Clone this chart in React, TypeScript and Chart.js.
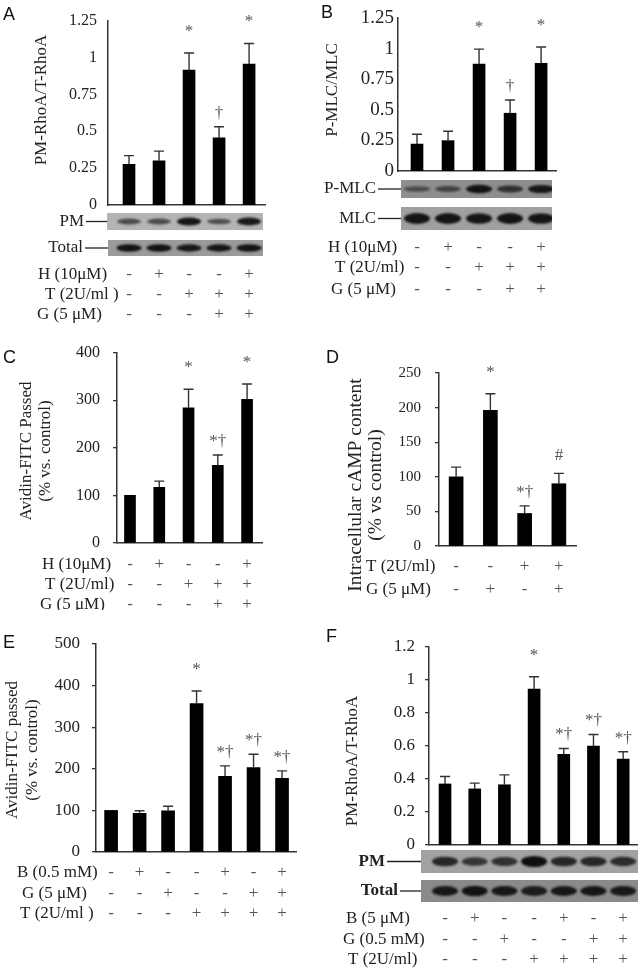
import React, { useEffect, useRef } from "react";
import { Chart, registerables } from "chart.js";

Chart.register(...registerables);

// ---------------- Data ----------------
// Panel A
const A_LANES = ["Ctrl", "H", "T", "T+G", "H+T+G"];
const A_VALUES = [0.275, 0.3, 0.915, 0.455, 0.955];
const A_ERRORS = [0.06, 0.065, 0.115, 0.075, 0.14];
const A_MARKS = ["", "", "*", "†", "*"];
const A_TICKS = [0, 0.25, 0.5, 0.75, 1, 1.25];
const A_TITLE = ["PM-RhoA/T-RhoA"];
const A_ROW_LABELS = ["H (10μM)", "T (2U/ml )", "G (5 μM)"];
const A_ROW_SIGNS = [
  ["-", "+", "-", "-", "+"],
  ["-", "-", "+", "+", "+"],
  ["-", "-", "-", "+", "+"],
];
const A_BLOT_LABELS = ["PM", "Total"];
const A_BLOT_PM = [0.45, 0.45, 0.95, 0.4, 0.9];
const A_BLOT_TOTAL = [0.95, 0.95, 0.9, 0.92, 0.95];

// Panel B
const B_LANES = ["Ctrl", "H", "T", "T+G", "H+T+G"];
const B_VALUES = [0.22, 0.248, 0.873, 0.472, 0.88];
const B_ERRORS = [0.08, 0.077, 0.123, 0.108, 0.133];
const B_MARKS = ["", "", "*", "†", "*"];
const B_TICKS = [0, 0.25, 0.5, 0.75, 1, 1.25];
const B_TITLE = ["P-MLC/MLC"];
const B_ROW_LABELS = ["H (10μM)", "T (2U/ml)", "G (5 μM)"];
const B_ROW_SIGNS = [
  ["-", "+", "-", "-", "+"],
  ["-", "-", "+", "+", "+"],
  ["-", "-", "-", "+", "+"],
];
const B_BLOT_LABELS = ["P-MLC", "MLC"];
const B_BLOT_PMLC = [0.3, 0.4, 0.95, 0.6, 0.9];
const B_BLOT_MLC = [0.95, 0.95, 0.92, 0.95, 0.93];

// Panel C
const C_LANES = ["Ctrl", "H", "T", "T+G", "H+T+G"];
const C_VALUES = [100, 117, 284, 163, 302];
const C_ERRORS = [0, 13, 39, 22, 32];
const C_MARKS = ["", "", "*", "*†", "*"];
const C_TICKS = [0, 100, 200, 300, 400];
const C_TITLE = ["Avidin-FITC Passed", "(% vs. control)"];
const C_ROW_LABELS = ["H (10μM)", "T (2U/ml)", "G (5 μM)"];
const C_ROW_SIGNS = [
  ["-", "+", "-", "-", "+"],
  ["-", "-", "+", "+", "+"],
  ["-", "-", "-", "+", "+"],
];

// Panel D
const D_LANES = ["Ctrl", "G", "T", "T+G"];
const D_VALUES = [100, 196, 47, 90];
const D_ERRORS = [14, 24, 11, 15];
const D_MARKS = ["", "*", "*†", "#"];
const D_TICKS = [0, 50, 100, 150, 200, 250];
const D_TITLE = ["Intracellular cAMP content", "(% vs control)"];
const D_ROW_LABELS = ["T (2U/ml)", "G (5 μM)"];
const D_ROW_SIGNS = [
  ["-", "-", "+", "+"],
  ["-", "+", "-", "+"],
];

// Panel E
const E_LANES = ["Ctrl", "B", "G", "T", "B+T", "G+T", "B+G+T"];
const E_VALUES = [100, 93, 99, 357, 182, 203, 177];
const E_ERRORS = [0, 6, 11, 30, 25, 32, 18];
const E_MARKS = ["", "", "", "*", "*†", "*†", "*†"];
const E_TICKS = [0, 100, 200, 300, 400, 500];
const E_TITLE = ["Avidin-FITC passed", "(% vs. control)"];
const E_ROW_LABELS = ["B (0.5 mM)", "G (5 μM)", "T (2U/ml )"];
const E_ROW_SIGNS = [
  ["-", "+", "-", "-", "+", "-", "+"],
  ["-", "-", "+", "-", "-", "+", "+"],
  ["-", "-", "-", "+", "+", "+", "+"],
];

// Panel F
const F_LANES = ["Ctrl", "B", "G", "T", "B+T", "G+T", "B+G+T"];
const F_VALUES = [0.37, 0.34, 0.365, 0.945, 0.55, 0.6, 0.52];
const F_ERRORS = [0.045, 0.035, 0.06, 0.075, 0.035, 0.07, 0.045];
const F_MARKS = ["", "", "", "*", "*†", "*†", "*†"];
const F_TICKS = [0, 0.2, 0.4, 0.6, 0.8, 1, 1.2];
const F_TITLE = ["PM-RhoA/T-RhoA"];
const F_ROW_LABELS = ["B (5 μM)", "G (0.5 mM)", "T (2U/ml)"];
const F_ROW_SIGNS = [
  ["-", "+", "-", "-", "+", "-", "+"],
  ["-", "-", "+", "-", "-", "+", "+"],
  ["-", "-", "-", "+", "+", "+", "+"],
];
const F_BLOT_LABELS = ["PM", "Total"];
const F_BLOT_PM = [0.75, 0.6, 0.65, 1.0, 0.75, 0.75, 0.7];
const F_BLOT_TOTAL = [0.9, 0.95, 0.9, 0.85, 0.9, 0.92, 0.88];

// ---------------- Styles / layout ----------------
const SERIF = "'Liberation Serif', 'Times New Roman', serif";
const SANS = "'Liberation Sans', Arial, sans-serif";

type Blot = {
  label: string;
  bands: number[];
  top: number;
  bottom: number;
  left: number;
  right: number;
  bg: string;
  labelRight: number;
  bold?: boolean;
  bandW: number;
};
type Row = { label: string; signs: string[]; x: number; y: number };
type Panel = {
  letter: string;
  letterX: number;
  letterY: number;
  left: number;
  top: number;
  width: number;
  height: number;
  area: { left: number; top: number; right: number; bottom: number };
  xMin: number;
  xMax: number;
  barW: number;
  lanes: string[];
  values: number[];
  errors: number[];
  marks: string[];
  ticks: number[];
  yMax: number;
  tickFont: number;
  tickLen: number;
  tickPad: number;
  title: string[];
  titleX: number[];
  titleY: number;
  titleFont: number;
  rows: Row[];
  blots: Blot[];
};

// vertical gap (px) between error-bar top and mark baseline, per mark kind
const MARK_GAP: Record<string, number> = { "*": 17, "†": 9, "*†": 9, "#": 13 };

function rowsOf(labels: string[], signs: string[][], xs: number[], ys: number[]): Row[] {
  return labels.map((label, i) => ({ label, signs: signs[i], x: xs[i], y: ys[i] }));
}

const PANELS: Panel[] = [
  {
    letter: "A", letterX: 3, letterY: 20,
    left: 0, top: 0, width: 320, height: 330,
    area: { left: 108, top: 15, right: 265, bottom: 205 },
    xMin: 0.3, xMax: 5.53, barW: 12,
    lanes: A_LANES, values: A_VALUES, errors: A_ERRORS, marks: A_MARKS,
    ticks: A_TICKS, yMax: 1.25, tickFont: 16, tickLen: 0, tickPad: 11,
    title: A_TITLE, titleX: [42], titleY: 100, titleFont: 17,
    rows: rowsOf(A_ROW_LABELS, A_ROW_SIGNS, [38, 45, 37], [275, 295, 315]),
    blots: [
      { label: A_BLOT_LABELS[0], bands: A_BLOT_PM, top: 213, bottom: 230, left: 107, right: 263, bg: "#b4b4b4", labelRight: 84, bandW: 24 },
      { label: A_BLOT_LABELS[1], bands: A_BLOT_TOTAL, top: 240, bottom: 256, left: 108, right: 263, bg: "#9a9a9a", labelRight: 83, bandW: 25 },
    ],
  },
  {
    letter: "B", letterX: 3, letterY: 18,
    left: 318, top: 0, width: 320, height: 330,
    area: { left: 80, top: 18, right: 238, bottom: 171 },
    xMin: 0.387, xMax: 5.48, barW: 12,
    lanes: B_LANES, values: B_VALUES, errors: B_ERRORS, marks: B_MARKS,
    ticks: B_TICKS, yMax: 1.25, tickFont: 19, tickLen: 0, tickPad: 4,
    title: B_TITLE, titleX: [15], titleY: 90, titleFont: 17,
    rows: rowsOf(B_ROW_LABELS, B_ROW_SIGNS, [10, 17, 13], [248, 268, 290]),
    blots: [
      { label: B_BLOT_LABELS[0], bands: B_BLOT_PMLC, top: 180, bottom: 198, left: 83, right: 234, bg: "#8e8e8e", labelRight: 58, bandW: 26 },
      { label: B_BLOT_LABELS[1], bands: B_BLOT_MLC, top: 207, bottom: 230, left: 83, right: 234, bg: "#a0a0a0", labelRight: 58, bandW: 26 },
    ],
  },
  {
    letter: "C", letterX: 3, letterY: 33,
    left: 0, top: 330, width: 320, height: 280,
    area: { left: 117, top: 21, right: 262, bottom: 213 },
    xMin: 0.556, xMax: 5.51, barW: 11,
    lanes: C_LANES, values: C_VALUES, errors: C_ERRORS, marks: C_MARKS,
    ticks: C_TICKS, yMax: 400, tickFont: 16, tickLen: 4, tickPad: 13,
    title: C_TITLE, titleX: [27, 46], titleY: 121, titleFont: 17,
    rows: rowsOf(C_ROW_LABELS, C_ROW_SIGNS, [42, 45, 40], [235, 255, 275]),
    blots: [],
  },
  {
    letter: "D", letterX: 8, letterY: 33,
    left: 318, top: 330, width: 320, height: 280,
    area: { left: 121, top: 43, right: 258, bottom: 216 },
    xMin: 0.5, xMax: 4.5, barW: 14,
    lanes: D_LANES, values: D_VALUES, errors: D_ERRORS, marks: D_MARKS,
    ticks: D_TICKS, yMax: 250, tickFont: 15, tickLen: 4, tickPad: 14,
    title: D_TITLE, titleX: [38, 58], titleY: 155, titleFont: 19.5,
    rows: rowsOf(D_ROW_LABELS, D_ROW_SIGNS, [48, 48], [237, 260]),
    blots: [],
  },
  {
    letter: "E", letterX: 3, letterY: 38,
    left: 0, top: 610, width: 320, height: 362,
    area: { left: 96, top: 34, right: 296, bottom: 242 },
    xMin: 0.47, xMax: 7.49, barW: 13,
    lanes: E_LANES, values: E_VALUES, errors: E_ERRORS, marks: E_MARKS,
    ticks: E_TICKS, yMax: 500, tickFont: 17, tickLen: 4, tickPad: 12,
    title: E_TITLE, titleX: [12.5, 33], titleY: 140, titleFont: 17,
    rows: rowsOf(E_ROW_LABELS, E_ROW_SIGNS, [17, 22, 20], [263, 284, 304]),
    blots: [],
  },
  {
    letter: "F", letterX: 8, letterY: 32,
    left: 318, top: 610, width: 320, height: 362,
    area: { left: 111, top: 37, right: 320, bottom: 235 },
    xMin: 0.46, xMax: 7.5, barW: 12,
    lanes: F_LANES, values: F_VALUES, errors: F_ERRORS, marks: F_MARKS,
    ticks: F_TICKS, yMax: 1.2, tickFont: 17, tickLen: 4, tickPad: 10,
    title: F_TITLE, titleX: [35], titleY: 151, titleFont: 17,
    rows: rowsOf(F_ROW_LABELS, F_ROW_SIGNS, [28, 25, 30], [309, 330, 350]),
    blots: [
      { label: F_BLOT_LABELS[0], bands: F_BLOT_PM, top: 240, bottom: 263, left: 103, right: 320, bg: "#a2a2a2", labelRight: 67, bold: true, bandW: 26 },
      { label: F_BLOT_LABELS[1], bands: F_BLOT_TOTAL, top: 270, bottom: 292, left: 103, right: 320, bg: "#8a8a8a", labelRight: 80, bold: true, bandW: 26 },
    ],
  },
];

function makeDecor(p: Panel) {
  return {
    id: "decor" + p.letter,
    afterDatasetsDraw(chart: any) {
      const ctx = chart.ctx as CanvasRenderingContext2D;
      const meta = chart.getDatasetMeta(0);
      const ys = chart.scales.y;
      ctx.save();
      meta.data.forEach((bar: any, i: number) => {
        const v = p.values[i];
        const e = p.errors[i];
        const x = bar.x;
        const y0 = ys.getPixelForValue(v);
        const y1 = ys.getPixelForValue(v + e);
        if (e > 0) {
          ctx.strokeStyle = "#333";
          ctx.lineWidth = 1.4;
          ctx.beginPath();
          ctx.moveTo(x, y0);
          ctx.lineTo(x, y1);
          ctx.moveTo(x - 5, y1);
          ctx.lineTo(x + 5, y1);
          ctx.stroke();
        }
        const m = p.marks[i];
        if (m) {
          ctx.fillStyle = "#555";
          ctx.font = `17px ${SERIF}`;
          ctx.textAlign = "center";
          ctx.textBaseline = "alphabetic";
          ctx.fillText(m, x, y1 - (MARK_GAP[m] ?? 9));
        }
      });
      ctx.restore();
    },
    afterDraw(chart: any) {
      const ctx = chart.ctx as CanvasRenderingContext2D;
      const meta = chart.getDatasetMeta(0);
      const xs: number[] = meta.data.map((b: any) => b.x);
      ctx.save();
      // panel letter
      ctx.fillStyle = "#111";
      ctx.font = `18px ${SANS}`;
      ctx.textAlign = "left";
      ctx.textBaseline = "alphabetic";
      ctx.fillText(p.letter, p.letterX, p.letterY);

      // y-axis title
      ctx.fillStyle = "#222";
      ctx.font = `${p.titleFont}px ${SERIF}`;
      p.title.forEach((line, i) => {
        ctx.save();
        ctx.translate(p.titleX[i], p.titleY);
        ctx.rotate(-Math.PI / 2);
        ctx.textAlign = "center";
        ctx.textBaseline = "middle";
        ctx.fillText(line, 0, 0);
        ctx.restore();
      });

      // blots
      p.blots.forEach((b) => {
        const cy = (b.top + b.bottom) / 2;
        const h = b.bottom - b.top;
        ctx.save();
        ctx.fillStyle = b.bg;
        ctx.fillRect(b.left, b.top, b.right - b.left, h);
        ctx.beginPath();
        ctx.rect(b.left, b.top, b.right - b.left, h);
        ctx.clip();
        ctx.filter = "blur(1.3px)";
        xs.forEach((x, i) => {
          const k = b.bands[i];
          ctx.fillStyle = `rgba(15,15,15,${0.35 + 0.65 * k})`;
          ctx.beginPath();
          ctx.ellipse(x, cy, b.bandW / 2, (h * 0.22) * (0.5 + 0.6 * k), 0, 0, Math.PI * 2);
          ctx.fill();
        });
        ctx.restore();
        ctx.save();
        ctx.fillStyle = "#222";
        ctx.font = `${b.bold ? "bold " : ""}17px ${SERIF}`;
        ctx.textAlign = "right";
        ctx.textBaseline = "middle";
        ctx.fillText(b.label, b.labelRight, cy);
        ctx.strokeStyle = "#222";
        ctx.lineWidth = 1.3;
        ctx.beginPath();
        ctx.moveTo(b.labelRight + 2, cy);
        ctx.lineTo(b.left, cy);
        ctx.stroke();
        ctx.restore();
      });

      // treatment rows
      p.rows.forEach((r) => {
        ctx.fillStyle = "#222";
        ctx.font = `17px ${SERIF}`;
        ctx.textAlign = "left";
        ctx.textBaseline = "middle";
        ctx.fillText(r.label, r.x, r.y);
        ctx.fillStyle = "#555";
        ctx.textAlign = "center";
        r.signs.forEach((s, i) => {
          ctx.fillText(s, xs[i], r.y);
        });
      });
      ctx.restore();
    },
  };
}

function PanelChart({ p }: { p: Panel }) {
  const ref = useRef<HTMLCanvasElement>(null);
  useEffect(() => {
    const canvas = ref.current;
    if (!canvas) return;
    const chart = new Chart(canvas, {
      type: "bar",
      data: {
        labels: p.lanes,
        datasets: [
          {
            data: p.values.map((v, i) => ({ x: i + 1, y: v })) as any,
            backgroundColor: "#000",
            borderWidth: 0,
            barThickness: p.barW,
          },
        ],
      },
      options: {
        responsive: false,
        animation: false,
        devicePixelRatio: 1,
        events: [],
        layout: {
          padding: {
            left: 0,
            top: p.area.top,
            right: p.width - p.area.right,
            bottom: p.height - p.area.bottom,
          },
        },
        plugins: { legend: { display: false }, tooltip: { enabled: false } },
        scales: {
          x: {
            type: "linear",
            min: p.xMin,
            max: p.xMax,
            offset: false,
            ticks: { display: false },
            grid: { display: false, drawTicks: false },
            border: { display: true, color: "#333", width: 1.5 },
          },
          y: {
            min: 0,
            max: p.yMax,
            afterBuildTicks: (s: any) => {
              s.ticks = p.ticks.map((v) => ({ value: v }));
            },
            afterFit: (s: any) => {
              s.width = p.area.left;
            },
            ticks: {
              color: "#222",
              font: { family: SERIF, size: p.tickFont },
              padding: p.tickPad,
              callback: (v: any) => String(Math.round(Number(v) * 1000) / 1000),
            },
            grid: p.tickLen > 0
              ? { display: true, drawOnChartArea: false, drawTicks: true, tickLength: p.tickLen, color: "#333", lineWidth: 1.3 }
              : { display: false, drawTicks: false },
            border: { display: true, color: "#333", width: 1.5 },
          },
        },
      } as any,
      plugins: [makeDecor(p)],
    });
    return () => chart.destroy();
  }, [p]);
  return (
    <canvas
      ref={ref}
      width={p.width}
      height={p.height}
      style={{ position: "absolute", left: p.left, top: p.top, width: p.width, height: p.height }}
    />
  );
}

export default function App() {
  return (
    <div style={{ position: "absolute", left: 0, top: 0, width: 638, height: 972, background: "#fff", overflow: "hidden" }}>
      {PANELS.map((p) => (
        <PanelChart key={p.letter} p={p} />
      ))}
    </div>
  );
}
